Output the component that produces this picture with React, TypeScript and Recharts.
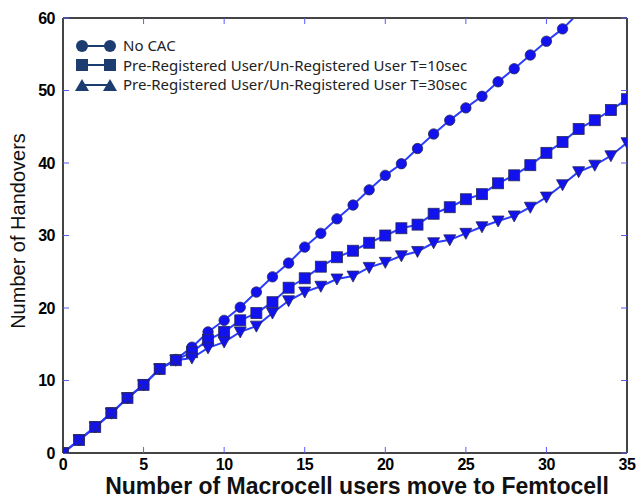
import React from "react";
import { LineChart, Line, XAxis, YAxis } from "recharts";

// users moved to femtocell (x axis)
const users = Array.from({ length: 36 }, (_, i) => i);

const noCac = [
  0, 1.8, 3.6, 5.5, 7.6, 9.4, 11.6, 12.9, 14.6, 16.7, 18.3, 20.1, 22.2, 24.3, 26.2, 28.4,
  30.3, 32.3, 34.2, 36.3, 38.3, 39.9, 42, 44, 45.9, 47.6, 49.2, 51.2, 53, 54.9, 56.8, 58.5,
  60.7,
];
const t10 = [
  0, 1.8, 3.6, 5.5, 7.6, 9.4, 11.6, 12.8, 13.9, 15.6, 16.7, 18.3, 19.3, 20.8, 22.8, 24.1,
  25.7, 27, 27.9, 29, 30, 31, 31.5, 33, 33.9, 35, 35.7, 37.2, 38.3, 39.7, 41.4, 42.9, 44.7,
  45.9, 47.3, 48.8,
];
const t30 = [
  0, 1.8, 3.6, 5.5, 7.6, 9.4, 11.6, 12.8, 13.1, 14.5, 15.3, 16.7, 17.5, 19.3, 21, 22.2, 23,
  24, 24.4, 25.6, 26.3, 27.2, 27.8, 29, 29.4, 30.3, 31.2, 32, 32.7, 33.9, 35.3, 37, 38.8,
  39.7, 41, 42.8,
];

const xTicks = [0, 5, 10, 15, 20, 25, 30, 35];
const yTicks = [0, 10, 20, 30, 40, 50, 60];
const legendNames = [
  "No CAC",
  "Pre-Registered User/Un-Registered User T=10sec",
  "Pre-Registered User/Un-Registered User T=30sec",
];

const data = users.map((x, i) => ({
  x,
  noCac: noCac[i] ?? null,
  t10: t10[i] ?? null,
  t30: t30[i] ?? null,
}));

const LINE = "#2b3dff";
const FILL = "#1212ee";
const EDGE = "#2a2a55";
const NAVY = "#1d3c70";

const tickFont = {
  fontFamily: "Liberation Sans",
  fontWeight: 700,
  fontSize: 16,
  fill: "#000",
  letterSpacing: -0.5,
};

function dot(kind: string) {
  return (p: any) => {
    const { cx, cy, value, index } = p;
    if (value == null || value > 60 || cx == null) return <g key={index} />;
    if (kind === "circle")
      return <circle key={index} cx={cx} cy={cy} r={5.2} fill={FILL} stroke={EDGE} strokeWidth={0.8} />;
    if (kind === "square")
      return (
        <rect key={index} x={cx - 5.5} y={cy - 5.5} width={11} height={11} fill={FILL} stroke={EDGE} strokeWidth={0.8} />
      );
    return (
      <polygon
        key={index}
        points={`${cx - 6},${cy - 5} ${cx + 6},${cy - 5} ${cx},${cy + 6}`}
        fill={FILL}
        stroke={EDGE}
        strokeWidth={0.8}
      />
    );
  };
}

function LegendMarker({ kind }: { kind: string }) {
  const m = (cx: number) =>
    kind === "circle" ? (
      <circle cx={cx} cy={8} r={6} fill={NAVY} />
    ) : kind === "square" ? (
      <rect x={cx - 6} y={2} width={12} height={12} fill={NAVY} />
    ) : (
      <polygon points={`${cx - 7},14 ${cx + 7},14 ${cx},2`} fill={NAVY} />
    );
  return (
    <svg width={44} height={16} style={{ display: "block" }}>
      <line x1={8} y1={8} x2={36} y2={8} stroke={NAVY} strokeWidth={2} />
      {m(8)}
      {m(36)}
    </svg>
  );
}

const noTick = () => <g />;

const xLabel = () => (
  <text
    x={357}
    y={494}
    textAnchor="middle"
    fontFamily="Liberation Sans"
    fontWeight={700}
    fontSize={23}
    fill="#111"
  >
    Number of Macrocell users move to Femtocell
  </text>
);

const yLabel = () => (
  <text
    transform="translate(25,231) rotate(-90)"
    textAnchor="middle"
    fontFamily="Liberation Sans"
    fontSize={20}
    fill="#111"
  >
    Number of Handovers
  </text>
);

export default function App() {
  const kinds = ["circle", "square", "triangle"];
  return (
    <div style={{ position: "absolute", left: 0, top: 0, width: 643, height: 499, background: "#fff" }}>
      <LineChart width={643} height={499} data={data} margin={{ top: 0, right: 0, left: 0, bottom: 0 }}>
        <XAxis
          xAxisId="b"
          dataKey="x"
          type="number"
          domain={[0, 35]}
          ticks={xTicks}
          allowDataOverflow
          height={46}
          axisLine={{ stroke: "#444", strokeWidth: 2 }}
          tickLine={{ stroke: "#5a5aff" }}
          tickSize={-6}
          tickMargin={12}
          tick={tickFont}
          interval={0}
          label={{ content: xLabel }}
        />
        <XAxis
          xAxisId="t"
          dataKey="x"
          type="number"
          orientation="top"
          domain={[0, 35]}
          ticks={xTicks}
          allowDataOverflow
          height={18}
          axisLine={{ stroke: "#444", strokeWidth: 2 }}
          tickLine={{ stroke: "#5a5aff" }}
          tickSize={-6}
          tick={noTick}
          interval={0}
        />
        <YAxis
          yAxisId="l"
          type="number"
          domain={[0, 60]}
          ticks={yTicks}
          allowDataOverflow
          width={63}
          axisLine={{ stroke: "#444", strokeWidth: 2 }}
          tickLine={{ stroke: "#5a5aff" }}
          tickSize={-6}
          tickMargin={14}
          tick={tickFont}
          interval={0}
          label={{ content: yLabel }}
        />
        <YAxis
          yAxisId="r"
          type="number"
          orientation="right"
          domain={[0, 60]}
          ticks={yTicks}
          allowDataOverflow
          width={16}
          axisLine={{ stroke: "#444", strokeWidth: 2 }}
          tickLine={{ stroke: "#5a5aff" }}
          tickSize={-6}
          tick={noTick}
          interval={0}
        />
        <Line
          xAxisId="b"
          yAxisId="l"
          dataKey="noCac"
          type="linear"
          stroke={LINE}
          strokeWidth={2}
          dot={dot("circle")}
          activeDot={false}
          isAnimationActive={false}
        />
        <Line
          xAxisId="b"
          yAxisId="l"
          dataKey="t10"
          type="linear"
          stroke={LINE}
          strokeWidth={2}
          dot={dot("square")}
          activeDot={false}
          isAnimationActive={false}
        />
        <Line
          xAxisId="b"
          yAxisId="l"
          dataKey="t30"
          type="linear"
          stroke={LINE}
          strokeWidth={2}
          dot={dot("triangle")}
          activeDot={false}
          isAnimationActive={false}
        />
      </LineChart>

      {/* legend, top left inside the plot */}
      <div style={{ position: "absolute", left: 74, top: 36, fontFamily: "Noto Sans", fontSize: 15, color: "#222" }}>
        {legendNames.map((name, i) => (
          <div key={name} style={{ display: "flex", alignItems: "center", height: 19.5 }}>
            <LegendMarker kind={kinds[i]} />
            <span style={{ marginLeft: 5, lineHeight: "19px" }}>{name}</span>
          </div>
        ))}
      </div>
    </div>
  );
}
